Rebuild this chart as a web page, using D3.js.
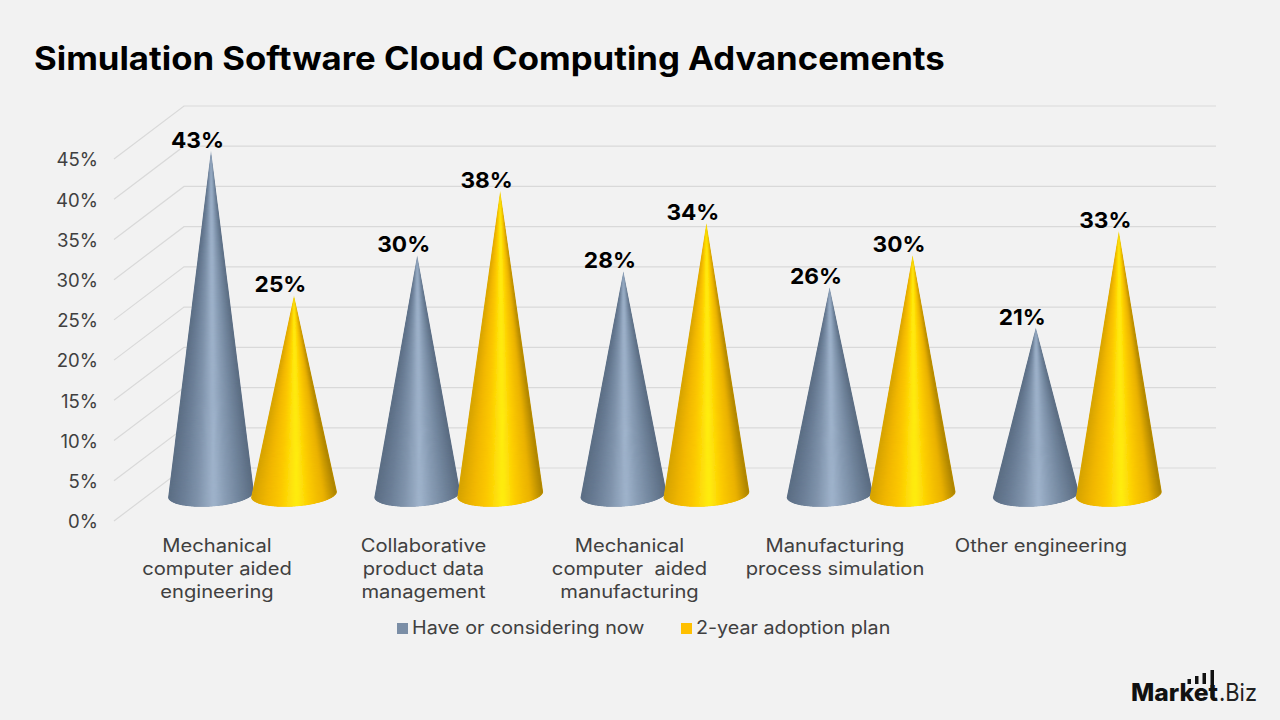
<!DOCTYPE html>
<html><head><meta charset="utf-8">
<script src="https://cdn.jsdelivr.net/npm/d3@7/dist/d3.min.js"></script>
<style>
html,body{margin:0;padding:0;background:#f2f2f2;}
svg{display:block;font-family:Inter,"Open Sans",sans-serif;}
text{white-space:pre;}
</style></head><body>
<svg id="chart" width="1280" height="720"></svg>
<script>
const categories = [
  ["Mechanical","computer aided","engineering"],
  ["Collaborative","product data","management"],
  ["Mechanical","computer  aided","manufacturing"],
  ["Manufacturing","process simulation"],
  ["Other engineering"]
];
const seriesNames = ["Have or considering now","2-year adoption plan"];
const haveNow = [43,30,28,26,21];
const adoptionPlan = [25,38,34,30,33];
const tickValues = [0,5,10,15,20,25,30,35,40,45];

const svg = d3.select("#chart");
const defs = svg.append("defs");

// Slight sideways softening blends the fan of slices into one smooth surface.
defs.append("filter").attr("id","fanSmooth").attr("x","-10%").attr("width","120%")
  .append("feGaussianBlur").attr("stdDeviation","1 0");

// Conic shading: colour depends on the position across the base only.
const highlightAt = 0.53;
const shadeStops = [0,0.17,0.34,highlightAt,0.68,0.85,1];
const shades = [
  d3.scaleLinear().domain(shadeStops).range(["#5c6e84","#6b7e96","#8093ab","#a2b6ce","#889cb4","#6f8299","#5a6b80"]),
  d3.scaleLinear().domain(shadeStops).range(["#d3a200","#f0b600","#fdca00","#fff014","#fdcd00","#eab200","#a67f00"])
];

// Widen the glyphs of a text selection by a constant factor.
function widen(sel,f){
  sel.each(function(){
    d3.select(this).attr("textLength",this.getComputedTextLength()*f).attr("lengthAdjust","spacingAndGlyphs");
  });
  return sel;
}

// Value axis of the front wall; the back wall and floor depth are fixed offsets from it.
const yFront = d3.scaleLinear().domain([0,45]).range([521,159]);
const depth = {x:70,y:-53};
const plotLeft = 114, plotRight = 1216;

const grid = svg.append("g").attr("fill","none").attr("stroke","#d9d9d9").attr("stroke-width",1.2);
tickValues.forEach(t=>{
  const y = yFront(t);
  grid.append("path").attr("d",`M${plotLeft},${y}L${plotLeft+depth.x},${y+depth.y}L${plotRight},${y+depth.y}`);
});

widen(svg.append("g").selectAll("text").data(tickValues).join("text")
  .attr("x",98).attr("y",d=>yFront(d)+1).attr("dy","0.35em").attr("text-anchor","end")
  .attr("font-size",18).attr("fill","#404040").text(d=>d+"%"),1.03);

// Cones stand midway through the floor depth, each group sharing one band.
const x0 = d3.scaleBand().domain(d3.range(categories.length)).range([108,1139]);
const seriesOffset = [103,186];
const yCone = d3.scaleLinear().domain([0,45]).range([496.5,134.5]);
const halfBase = 43, baseRy = 12, tiltDeg = -4, baseY = 494.5, sliceCount = 90;
const tilt = tiltDeg*Math.PI/180;

// Point on the front half of the tilted base ellipse, u running 0..1 from left to right.
function basePoint(cx,u){
  const a = Math.PI*(1-u);
  const ex = halfBase*Math.cos(a), ey = baseRy*Math.sin(a);
  return [cx+ex*Math.cos(tilt)-ey*Math.sin(tilt), baseY+ex*Math.sin(tilt)+ey*Math.cos(tilt)];
}
function conePath(cx,tipY){
  const arc = d3.range(sliceCount+1).map(k=>basePoint(cx,k/sliceCount));
  return d3.line()([[cx,tipY],...arc])+"Z";
}
const rows = categories.flatMap((c,i)=>[
  {i,s:0,v:haveNow[i]},{i,s:1,v:adoptionPlan[i]}
]);
const centre = d=> x0(d.i)+seriesOffset[d.s];

const cones = svg.append("g").selectAll("g").data(rows).join("g")
  .attr("clip-path",(d,n)=>`url(#coneClip${n})`);
rows.forEach((d,n)=>{
  defs.append("clipPath").attr("id","coneClip"+n).append("path").attr("d",conePath(centre(d),yCone(d.v)));
});
cones.each(function(d){
  const cx = centre(d), tip = [cx,yCone(d.v)];
  const cone = d3.select(this);
  // Solid underlay keeps the clipped rim opaque beneath the softened fan.
  cone.append("path").attr("d",conePath(cx,yCone(d.v))).attr("fill",shades[d.s](0.15));
  // Slices paint from the rim inward so the highlight stays on top near the apex.
  const slices = d3.range(sliceCount).map(k=>{
    const a = basePoint(cx,k/sliceCount), b = basePoint(cx,(k+1)/sliceCount);
    return {a,b,u:((a[0]+b[0])/2-(cx-halfBase))/(2*halfBase)};
  }).sort((p,q)=>Math.abs(q.u-highlightAt)-Math.abs(p.u-highlightAt));
  cone.append("g").attr("filter","url(#fanSmooth)").selectAll("path").data(slices).join("path")
    .attr("d",p=>d3.line()([tip,p.a,p.b])+"Z")
    .attr("fill",p=>shades[d.s](p.u)).attr("stroke",p=>shades[d.s](p.u)).attr("stroke-width",0.5);
});

widen(svg.append("g").selectAll("text").data(rows).join("text")
  .attr("x",d=>centre(d)-13.5).attr("y",d=>yCone(d.v)-3)
  .attr("text-anchor","middle").attr("font-size",22).attr("font-weight",700)
  .attr("fill","#000").text(d=>d.v+"%"),1.03);

// Category labels, one text per line.
const catCentres = [217,423.5,629.5,835,1041];
const catLines = categories.flatMap((lines,i)=>lines.map((s,k)=>({s,i,k})));
widen(svg.append("g").selectAll("text").data(catLines).join("text")
  .attr("x",d=>catCentres[d.i]).attr("y",d=>552+d.k*23)
  .attr("text-anchor","middle").attr("font-size",18).attr("fill","#404040").text(d=>d.s),1.12);

// Legend
const legend = svg.append("g");
[[396,seriesNames[0],"#7b8ea6"],[680,seriesNames[1],"#ffc000"]].forEach(([x,name,c])=>{
  legend.append("rect").attr("x",x+1).attr("y",623).attr("width",11).attr("height",11).attr("fill",c);
  widen(legend.append("text").attr("x",x+16).attr("y",634).attr("font-size",18).attr("fill","#404040").text(name),1.095);
});

widen(svg.append("text").attr("x",34).attr("y",70).attr("font-size",32).attr("font-weight",700)
  .attr("fill","#000").text("Simulation Software Cloud Computing Advancements"),1.085);

// Wordmark with its rising bars
const logo = svg.append("g");
logo.append("text").attr("x",1131).attr("y",701).attr("font-size",24).attr("font-weight",800).attr("fill","#111")
  .attr("textLength",87).attr("lengthAdjust","spacingAndGlyphs").text("Market");
logo.append("text").attr("x",1219).attr("y",701).attr("font-size",24).attr("fill","#222")
  .attr("textLength",38).attr("lengthAdjust","spacingAndGlyphs").text(".Biz");
[[1187.5,679,3.5,5],[1195,676,3.5,8],[1202.5,673,3.5,11],[1210.5,670,3.5,28]].forEach(([x,y,w,h])=>
  logo.append("rect").attr("x",x).attr("y",y).attr("width",w).attr("height",h).attr("fill","#111"));
</script>
</body></html>
